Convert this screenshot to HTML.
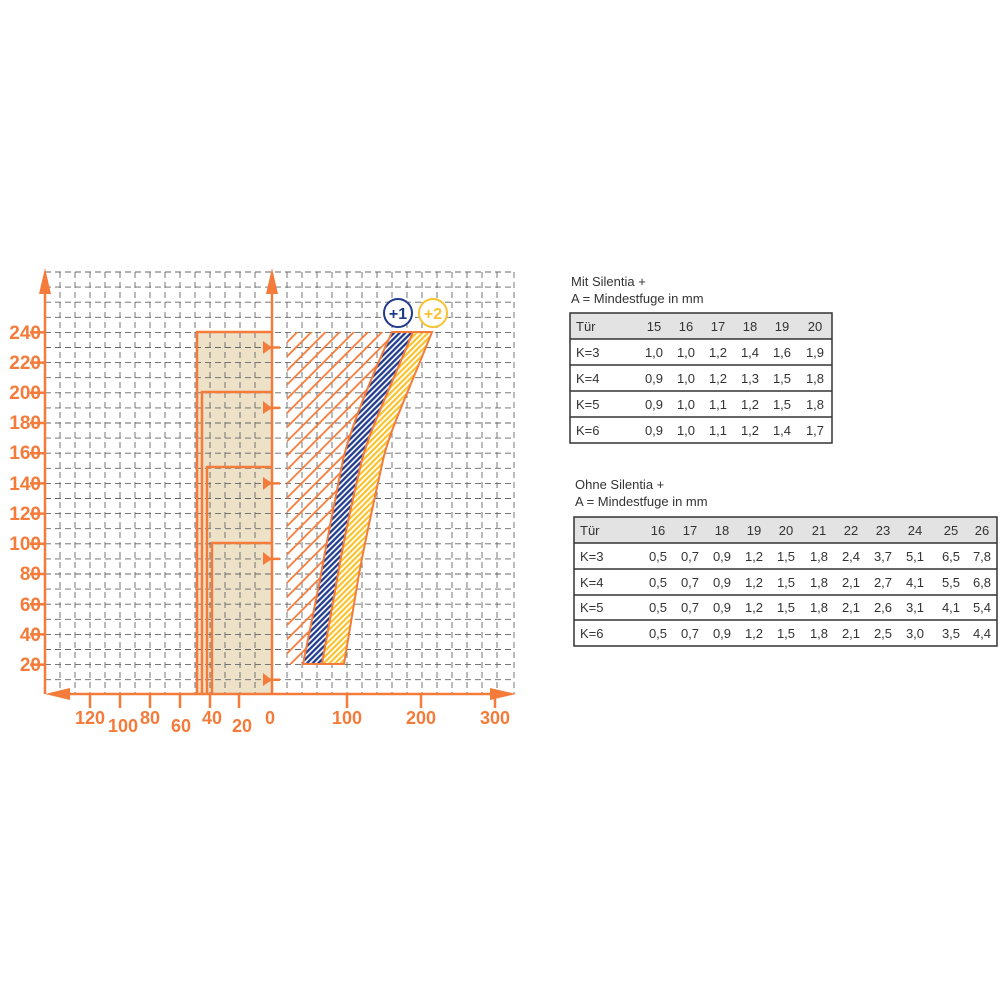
<!DOCTYPE html>
<html><head><meta charset="utf-8"><style>body{margin:0;background:#fff}svg{display:block}</style></head><body>
<svg width="1000" height="1000" xmlns="http://www.w3.org/2000/svg" font-family="Liberation Sans, sans-serif">
<defs>
<pattern id="ho" width="10" height="10" patternUnits="userSpaceOnUse" patternTransform="rotate(45)"><line x1="5" y1="0" x2="5" y2="10" stroke="#f47b3a" stroke-width="1.8"/></pattern>
<pattern id="hb" width="4" height="4" patternUnits="userSpaceOnUse" patternTransform="rotate(45)"><rect width="4" height="4" fill="#fff"/><line x1="2" y1="0" x2="2" y2="4" stroke="#1f3a8c" stroke-width="2.3"/></pattern>
<pattern id="hy" width="4" height="4" patternUnits="userSpaceOnUse" patternTransform="rotate(45)"><rect width="4" height="4" fill="#fff"/><line x1="2" y1="0" x2="2" y2="4" stroke="#f9c22e" stroke-width="2.2"/></pattern>
</defs>
<rect x="197" y="332" width="75" height="362" fill="#ede2c8"/>
<g stroke="#666" stroke-width="0.9" stroke-dasharray="6,4">
<path d="M45 272H515M45 287.1H515M45 302.2H515M45 317.3H515M45 332.4H515M45 347.5H515M45 362.6H515M45 377.7H515M45 392.8H515M45 407.9H515M45 423H515M45 438.1H515M45 453.2H515M45 468.3H515M45 483.4H515M45 498.5H515M45 513.6H515M45 528.7H515M45 543.8H515M45 558.9H515M45 574H515M45 589.1H515M45 604.2H515M45 619.3H515M45 634.4H515M45 649.5H515M45 664.6H515M45 679.7H515"/>
<path d="M60 272V694M75 272V694M90 272V694M105 272V694M120 272V694M135 272V694M150 272V694M165 272V694M180 272V694M195 272V694M210 272V694M225 272V694M240 272V694M255 272V694M287 272V694M302 272V694M317 272V694M332 272V694M347 272V694M362 272V694M377 272V694M392 272V694M407 272V694M422 272V694M437 272V694M452 272V694M467 272V694M482 272V694M497 272V694M514 272V694"/>
</g>
<path d="M287 332H392C370 380 350 430 343 460C333 510 325 550 320 580L310 664H287Z" fill="url(#ho)"/>
<path d="M392 332H413C385 400 370 430 362 460C350 510 342 550 337 580L322 664H303L320 580C325 550 333 510 343 460C350 430 370 380 392 332Z" fill="url(#hb)" stroke="#f47b3a" stroke-width="2"/>
<path d="M413 332H432C405 400 390 430 383 460C372 510 363 550 358 580L344 664H322L337 580C342 550 350 510 362 460C370 430 385 400 413 332Z" fill="url(#hy)" stroke="#f47b3a" stroke-width="2"/>
<g stroke="#f47b3a" stroke-width="2.5" fill="none">
<path d="M197 694V332H272"/>
<path d="M202 694V392H272M207 694V467H272M212 694V543H272"/>
<path d="M45 694V285M272 694V285M55 694H505"/>
<path d="M30 332.4H45M30 362.6H45M30 392.8H45M30 423H45M30 453.2H45M30 483.4H45M30 513.6H45M30 543.8H45M30 574H45M30 604.2H45M30 634.4H45M30 664.6H45"/>
<path d="M90 694V708M120 694V708M150 694V708M180 694V708M210 694V708M239 694V708M347 694V708M421 694V708M495 694V708"/>
<path d="M265 347.5H280M265 407.9H280M265 483.4H280M265 558.9H280M265 679.7H280"/>
</g>
<g fill="#f47b3a">
<path d="M45 268L39 294H51Z"/><path d="M272 268L266 294H278Z"/>
<path d="M45 694L70 688V700Z"/><path d="M516 694L490 688V700Z"/>
<path d="M263 341V354L272 347.5Z"/><path d="M263 401V414L272 408Z"/><path d="M263 477V490L272 483Z"/><path d="M263 552V565L272 559Z"/><path d="M263 673V686L272 680Z"/>
</g>
<g fill="#f47b3a" font-weight="bold" font-size="19" text-anchor="end">
<text x="41" y="339">240</text><text x="41" y="369">220</text><text x="41" y="399">200</text><text x="41" y="429">180</text><text x="41" y="459">160</text><text x="41" y="490">140</text><text x="41" y="520">120</text><text x="41" y="550">100</text><text x="41" y="580">80</text><text x="41" y="611">60</text><text x="41" y="641">40</text><text x="41" y="671">20</text>
</g>
<g fill="#f47b3a" font-weight="bold" font-size="18" text-anchor="middle">
<text x="90" y="724">120</text><text x="123" y="732">100</text><text x="150" y="724">80</text><text x="181" y="732">60</text><text x="212" y="724">40</text><text x="242" y="732">20</text><text x="270" y="724">0</text><text x="347" y="724">100</text><text x="421" y="724">200</text><text x="495" y="724">300</text>
</g>
<circle cx="398" cy="313" r="14" fill="#fff" stroke="#1f3a8c" stroke-width="2"/>
<text x="398" y="319" text-anchor="middle" font-weight="bold" font-size="16" fill="#1f3a8c">+1</text>
<circle cx="433" cy="313" r="14" fill="#fff" stroke="#f9c22e" stroke-width="2"/>
<text x="433" y="319" text-anchor="middle" font-weight="bold" font-size="16" fill="#f9c22e">+2</text>
<g font-size="13" fill="#333">
<text x="571" y="286">Mit Silentia +</text><text x="571" y="303">A = Mindestfuge in mm</text>
<rect x="570" y="313" width="262" height="26" fill="#e3e3e3"/>
<rect x="570" y="313" width="262" height="130" fill="none" stroke="#333" stroke-width="1.5"/>
<path d="M570 339H832M570 365H832M570 391H832M570 417H832" stroke="#333" stroke-width="1.5"/>
<g><text x="576" y="331">Tür</text><text x="576" y="357">K=3</text><text x="576" y="383">K=4</text><text x="576" y="409">K=5</text><text x="576" y="435">K=6</text></g>
<g text-anchor="middle">
<text x="654" y="331">15</text><text x="686" y="331">16</text><text x="718" y="331">17</text><text x="750" y="331">18</text><text x="782" y="331">19</text><text x="815" y="331">20</text>
<text x="654" y="357">1,0</text><text x="686" y="357">1,0</text><text x="718" y="357">1,2</text><text x="750" y="357">1,4</text><text x="782" y="357">1,6</text><text x="815" y="357">1,9</text>
<text x="654" y="383">0,9</text><text x="686" y="383">1,0</text><text x="718" y="383">1,2</text><text x="750" y="383">1,3</text><text x="782" y="383">1,5</text><text x="815" y="383">1,8</text>
<text x="654" y="409">0,9</text><text x="686" y="409">1,0</text><text x="718" y="409">1,1</text><text x="750" y="409">1,2</text><text x="782" y="409">1,5</text><text x="815" y="409">1,8</text>
<text x="654" y="435">0,9</text><text x="686" y="435">1,0</text><text x="718" y="435">1,1</text><text x="750" y="435">1,2</text><text x="782" y="435">1,4</text><text x="815" y="435">1,7</text>
</g>
<text x="575" y="489">Ohne Silentia +</text><text x="575" y="506">A = Mindestfuge in mm</text>
<rect x="574" y="517" width="423" height="26" fill="#e3e3e3"/>
<rect x="574" y="517" width="423" height="129" fill="none" stroke="#333" stroke-width="1.5"/>
<path d="M574 543H997M574 569H997M574 595H997M574 620H997" stroke="#333" stroke-width="1.5"/>
<g><text x="580" y="535">Tür</text><text x="580" y="561">K=3</text><text x="580" y="587">K=4</text><text x="580" y="612">K=5</text><text x="580" y="638">K=6</text></g>
<g text-anchor="middle">
<text x="658" y="535">16</text><text x="690" y="535">17</text><text x="722" y="535">18</text><text x="754" y="535">19</text><text x="786" y="535">20</text><text x="819" y="535">21</text><text x="851" y="535">22</text><text x="883" y="535">23</text><text x="915" y="535">24</text><text x="951" y="535">25</text><text x="982" y="535">26</text>
<text x="658" y="561">0,5</text><text x="690" y="561">0,7</text><text x="722" y="561">0,9</text><text x="754" y="561">1,2</text><text x="786" y="561">1,5</text><text x="819" y="561">1,8</text><text x="851" y="561">2,4</text><text x="883" y="561">3,7</text><text x="915" y="561">5,1</text><text x="951" y="561">6,5</text><text x="982" y="561">7,8</text>
<text x="658" y="587">0,5</text><text x="690" y="587">0,7</text><text x="722" y="587">0,9</text><text x="754" y="587">1,2</text><text x="786" y="587">1,5</text><text x="819" y="587">1,8</text><text x="851" y="587">2,1</text><text x="883" y="587">2,7</text><text x="915" y="587">4,1</text><text x="951" y="587">5,5</text><text x="982" y="587">6,8</text>
<text x="658" y="612">0,5</text><text x="690" y="612">0,7</text><text x="722" y="612">0,9</text><text x="754" y="612">1,2</text><text x="786" y="612">1,5</text><text x="819" y="612">1,8</text><text x="851" y="612">2,1</text><text x="883" y="612">2,6</text><text x="915" y="612">3,1</text><text x="951" y="612">4,1</text><text x="982" y="612">5,4</text>
<text x="658" y="638">0,5</text><text x="690" y="638">0,7</text><text x="722" y="638">0,9</text><text x="754" y="638">1,2</text><text x="786" y="638">1,5</text><text x="819" y="638">1,8</text><text x="851" y="638">2,1</text><text x="883" y="638">2,5</text><text x="915" y="638">3,0</text><text x="951" y="638">3,5</text><text x="982" y="638">4,4</text>
</g>
</g>
</svg>
</body></html>
